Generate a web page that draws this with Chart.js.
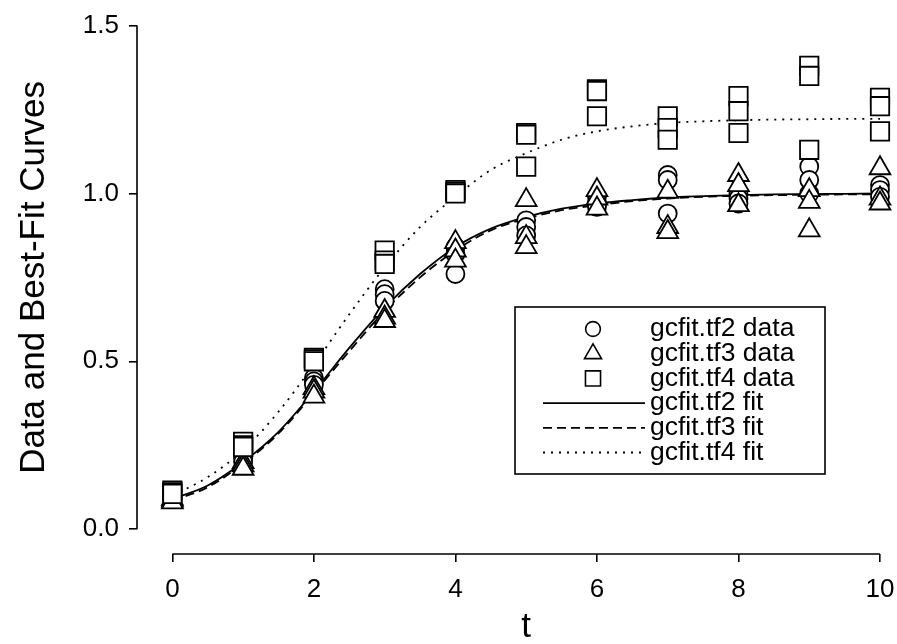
<!DOCTYPE html>
<html>
<head>
<meta charset="utf-8">
<title>Data and Best-Fit Curves</title>
<script src="https://cdn.jsdelivr.net/npm/chart.js@4.4.1/dist/chart.umd.min.js"></script>
<style>
  html, body { margin: 0; padding: 0; background: #fff; }
  canvas { display: block; }
</style>
</head>
<body>
<canvas id="fitChart" width="897" height="644"></canvas>
<script>
// sampling times, three replicate readings at each
const timePoints = [0, 1, 2, 3, 4, 5, 6, 7, 8, 9, 10];

const tf2Data = [
  [0.10, 0.10, 0.09], [0.22, 0.21, 0.20], [0.45, 0.44, 0.43], [0.715, 0.70, 0.68],
  [0.84, 0.82, 0.76], [0.92, 0.90, 0.875], [0.99, 0.97, 0.96], [1.055, 1.04, 0.94],
  [1.00, 0.985, 0.97], [1.08, 1.04, 1.00], [1.025, 1.01, 0.99]
];
const tf3Data = [
  [0.09, 0.085, 0.08], [0.20, 0.19, 0.18], [0.42, 0.41, 0.395], [0.65, 0.63, 0.62],
  [0.855, 0.83, 0.80], [0.98, 0.87, 0.84], [1.01, 0.985, 0.955], [1.005, 0.90, 0.885],
  [1.055, 1.025, 0.965], [1.01, 0.975, 0.89], [1.075, 0.985, 0.97]
];
const tf4Data = [
  [0.115, 0.11, 0.105], [0.26, 0.25, 0.245], [0.51, 0.505, 0.50], [0.83, 0.80, 0.79],
  [1.01, 1.005, 1.00], [1.18, 1.175, 1.08], [1.31, 1.305, 1.23], [1.23, 1.195, 1.16],
  [1.29, 1.245, 1.18], [1.38, 1.35, 1.13], [1.285, 1.26, 1.185]
];

// fitted curves, read every half unit of t
const fitTimes = [0, 0.5, 1, 1.5, 2, 2.5, 3, 3.5, 4, 4.5, 5, 5.5, 6, 6.5, 7, 7.5, 8, 8.5, 9, 9.5, 10];
const tf2Fit = [0.09, 0.13, 0.20, 0.29, 0.41, 0.54, 0.66, 0.76, 0.84, 0.895, 0.93, 0.955, 0.97,
  0.98, 0.988, 0.992, 0.995, 0.997, 0.998, 0.999, 1.0];
const tf3Fit = [0.085, 0.125, 0.195, 0.285, 0.405, 0.53, 0.65, 0.75, 0.83, 0.89, 0.925, 0.95, 0.965,
  0.977, 0.985, 0.99, 0.993, 0.995, 0.996, 0.997, 0.997];
const tf4Fit = [0.10, 0.155, 0.235, 0.35, 0.49, 0.64, 0.78, 0.90, 0.99, 1.07, 1.12, 1.16, 1.185,
  1.20, 1.21, 1.215, 1.218, 1.22, 1.221, 1.222, 1.222];

const xTicks = [0, 2, 4, 6, 8, 10];
const yTicks = [0, 0.5, 1.0, 1.5];
const xTitle = "t";
const yTitle = "Data and Best-Fit Curves";

const FONT = "'Liberation Sans', Arial, Helvetica, sans-serif";

function toPoints(reps) {
  return timePoints.flatMap((t, i) => reps[i].map((v) => ({ x: t, y: v })));
}

function toCurve(vals) {
  return fitTimes.map((t, i) => ({ x: t, y: vals[i] }));
}

function markerSet(label, reps, style, radius, order) {
  return {
    type: "scatter",
    label,
    data: toPoints(reps),
    pointStyle: style,
    pointRadius: radius,
    pointHoverRadius: radius,
    pointBorderWidth: 1.8,
    pointBorderColor: "#000",
    pointBackgroundColor: "#fff",
    clip: false,
    order,
  };
}

function curveSet(label, vals, dash, order) {
  return {
    type: "line",
    label,
    data: toCurve(vals),
    borderColor: "#000",
    borderWidth: 1.8,
    borderDash: dash,
    pointRadius: 0,
    cubicInterpolationMode: "monotone",
    fill: false,
    clip: false,
    order,
  };
}

const datasets = [
  markerSet("gcfit.tf2 data", tf2Data, "circle", 9, 2),
  markerSet("gcfit.tf3 data", tf3Data, "triangle", 12, 1),
  markerSet("gcfit.tf4 data", tf4Data, "rect", 13, 0),
  curveSet("gcfit.tf2 fit", tf2Fit, [], 3),
  curveSet("gcfit.tf3 fit", tf3Fit, [9, 5], 4),
  curveSet("gcfit.tf4 fit", tf4Fit, [2, 6], 5),
];

// axis lines and titles only span the tick range, so they are drawn here
const axisLines = {
  id: "axisLines",
  afterDraw(chart) {
    const { ctx, chartArea, scales } = chart;
    const x = scales.x;
    const y = scales.y;
    const x0 = x.getPixelForValue(xTicks[0]);
    const x1 = x.getPixelForValue(xTicks[xTicks.length - 1]);
    const y0 = y.getPixelForValue(yTicks[0]);
    const y1 = y.getPixelForValue(yTicks[yTicks.length - 1]);
    ctx.save();
    ctx.strokeStyle = "#000";
    ctx.lineWidth = 1.6;
    ctx.beginPath();
    ctx.moveTo(x0, chartArea.bottom);
    ctx.lineTo(x1, chartArea.bottom);
    ctx.moveTo(chartArea.left, y0);
    ctx.lineTo(chartArea.left, y1);
    ctx.stroke();

    ctx.fillStyle = "#000";
    ctx.font = "35px " + FONT;
    ctx.textAlign = "center";
    ctx.textBaseline = "middle";
    ctx.fillText(xTitle, (x0 + x1) / 2, 627);
    ctx.translate(34, (y0 + y1) / 2);
    ctx.rotate(-Math.PI / 2);
    ctx.fillText(yTitle, 0, 0);
    ctx.restore();
  },
};

// framed legend inside the plot
const boxLegend = {
  id: "boxLegend",
  afterDraw(chart) {
    const { ctx } = chart;
    const box = { left: 515, top: 307, right: 825, bottom: 474 };
    const rowY = 329;
    const rowGap = 24.7;
    ctx.save();
    ctx.fillStyle = "#fff";
    ctx.fillRect(box.left, box.top, box.right - box.left, box.bottom - box.top);
    ctx.strokeStyle = "#000";
    ctx.lineWidth = 1.6;
    ctx.strokeRect(box.left, box.top, box.right - box.left, box.bottom - box.top);

    chart.data.datasets.forEach((ds, i) => {
      const yy = rowY + i * rowGap;
      ctx.strokeStyle = "#000";
      ctx.fillStyle = "#fff";
      if (ds.type === "scatter") {
        ctx.lineWidth = 1.6;
        Chart.helpers.drawPoint(ctx, {
          pointStyle: ds.pointStyle,
          radius: ds.pointRadius * 0.82,
          rotation: 0,
          borderWidth: 1.6,
        }, 593, yy);
      } else {
        ctx.lineWidth = ds.borderWidth;
        ctx.setLineDash(ds.borderDash);
        ctx.beginPath();
        ctx.moveTo(543, yy);
        ctx.lineTo(645, yy);
        ctx.stroke();
        ctx.setLineDash([]);
      }
      ctx.fillStyle = "#000";
      ctx.font = "26.5px " + FONT;
      ctx.textBaseline = "middle";
      ctx.textAlign = "left";
      ctx.fillText(ds.label, 650, yy);
    });
    ctx.restore();
  },
};

new Chart(document.getElementById("fitChart"), {
  data: { datasets },
  options: {
    responsive: false,
    animation: false,
    layout: { padding: { left: 0, top: 21, right: 17, bottom: 0 } },
    plugins: {
      legend: { display: false },
      tooltip: { enabled: false },
    },
    scales: {
      x: {
        type: "linear",
        min: -0.5,
        max: 10,
        afterBuildTicks: (scale) => {
          scale.ticks = xTicks.map((v) => ({ value: v }));
        },
        afterFit: (scale) => {
          scale.height = 90;
          scale.paddingLeft = 0;
          scale.paddingRight = 0;
        },
        border: { display: false },
        grid: {
          drawOnChartArea: false,
          drawTicks: true,
          tickLength: 8,
          color: "#000",
          lineWidth: 1.6,
        },
        ticks: {
          color: "#000",
          font: { family: FONT, size: 26 },
          padding: 12,
          maxRotation: 0,
          callback: (v) => String(v),
        },
      },
      y: {
        type: "linear",
        min: -0.074,
        max: 1.5,
        afterBuildTicks: (scale) => {
          scale.ticks = yTicks.map((v) => ({ value: v }));
        },
        afterFit: (scale) => {
          scale.width = 137;
        },
        border: { display: false },
        grid: {
          drawOnChartArea: false,
          drawTicks: true,
          tickLength: 8,
          color: "#000",
          lineWidth: 1.6,
        },
        ticks: {
          color: "#000",
          font: { family: FONT, size: 26 },
          padding: 10,
          callback: (v) => Number(v).toFixed(1),
        },
      },
    },
  },
  plugins: [axisLines, boxLegend],
});
</script>
</body>
</html>
